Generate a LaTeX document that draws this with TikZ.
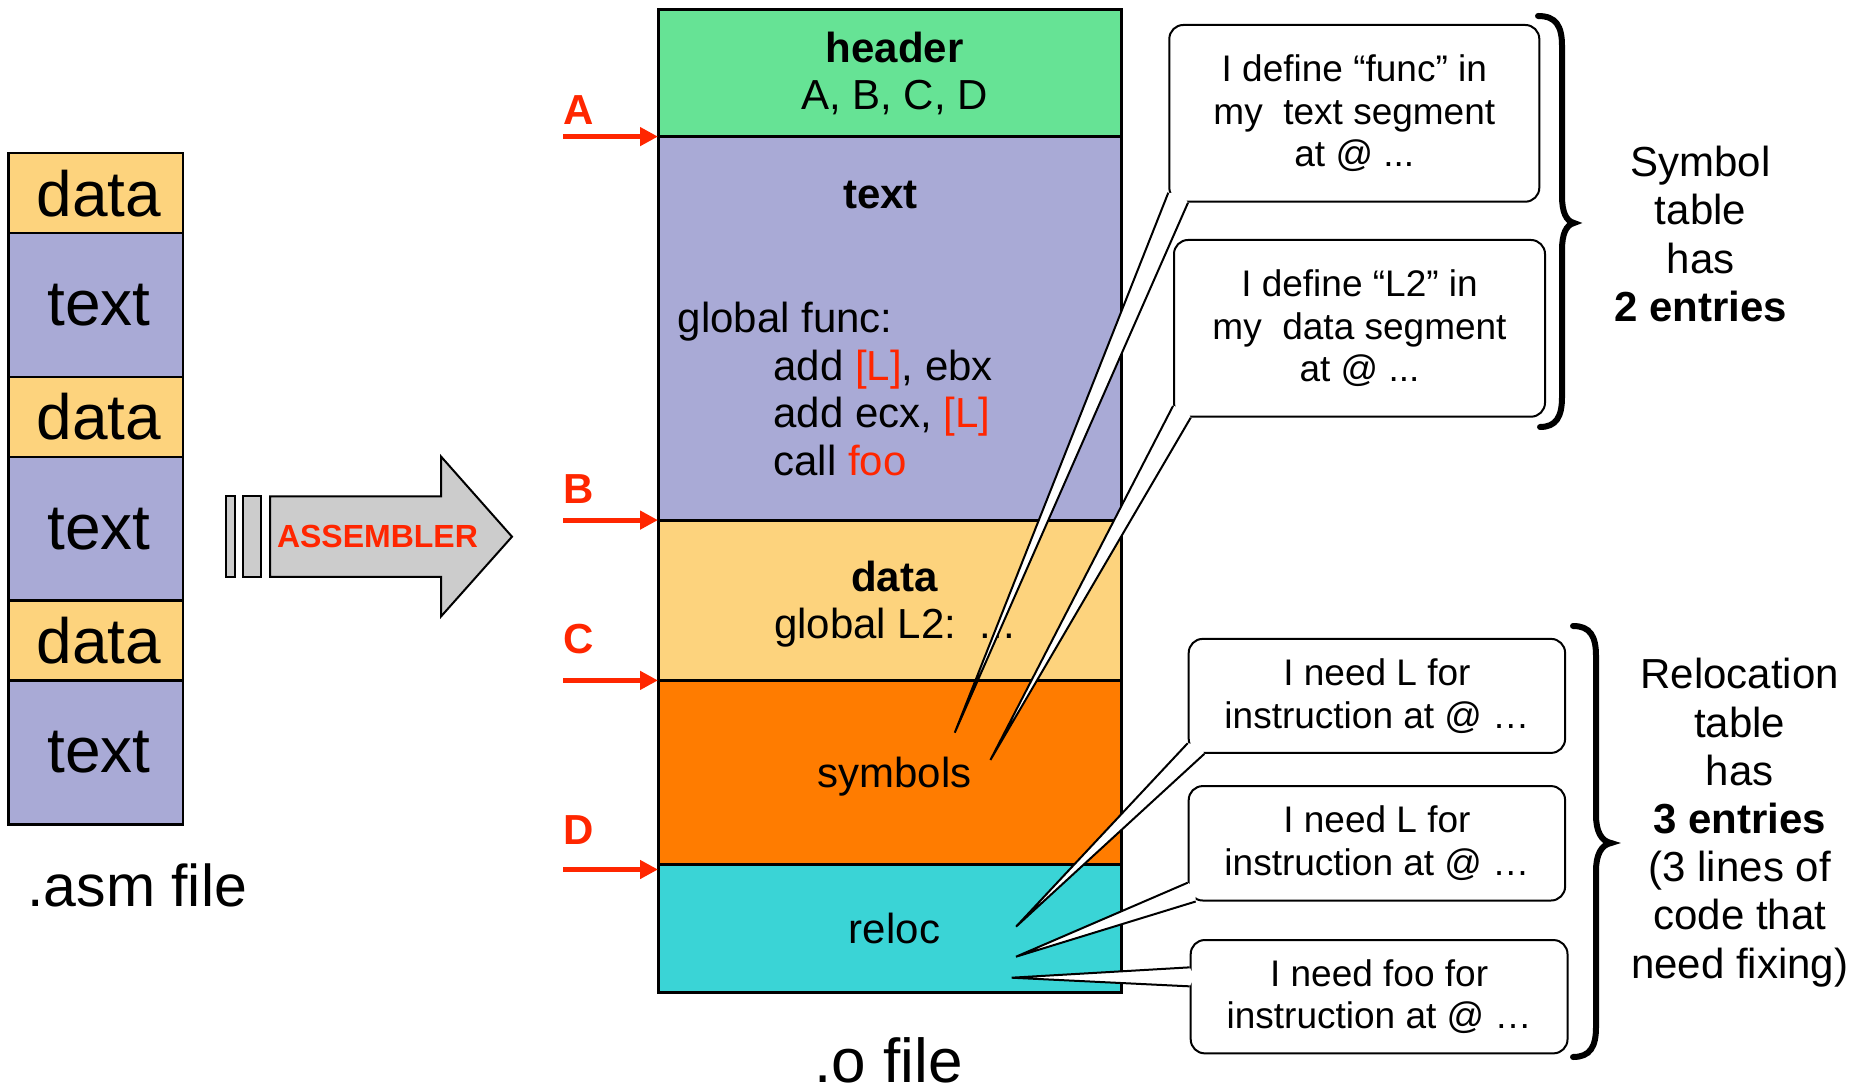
\documentclass[tikz,border=0pt]{standalone}
\usepackage{fontspec}
\setmainfont{Liberation Sans}
\usetikzlibrary{arrows.meta,calc,positioning}

\definecolor{hdrgreen}{RGB}{102,227,149}
\definecolor{txtblue}{RGB}{169,170,214}
\definecolor{datyellow}{RGB}{253,211,125}
\definecolor{symorange}{RGB}{255,124,0}
\definecolor{relcyan}{RGB}{58,212,214}
\definecolor{lblred}{RGB}{255,38,0}
\definecolor{asmgray}{RGB}{204,204,204}
\newcommand{\segwd}{231.5pt}
\newcommand{\asmwd}{87.3pt}
\newcommand{\hl}[1]{\textcolor{lblred}{#1}}
\newcommand{\fsize}[2]{\fontsize{#1}{#2}\selectfont}
% white tail of a callout: base points #1 and #2, tip #3, inward shift #4
\newcommand{\calltail}[4]{%
  \fill[white] (#1) -- (#3) -- (#2) -- ($(#1)!0.5!(#2)+(#4)$) -- cycle;
  \draw[tailline] (#1) -- (#3) -- (#2);}

\tikzset{
  oseg/.style={draw, line width=1.5pt, minimum width=\segwd, inner sep=0pt, outer sep=0pt},
  otext/.style={align=center, inner sep=0pt, font=\fsize{21}{23.5}},
  aseg/.style={draw, line width=1.2pt, minimum width=\asmwd, inner sep=0pt, outer sep=0pt},
  atext/.style={inner sep=0pt, font=\fsize{32}{34}},
  code/.style={anchor=base west, inner sep=0pt, font=\fsize{21}{23.5}},
  seglbl/.style={text=lblred, font=\bfseries\fsize{21}{23.5}},
  redarr/.style={draw=lblred, line width=2.5pt, -{Triangle[length=9pt,width=9pt]}},
  callbox/.style={draw, fill=white, line width=1pt, rounded corners=7pt, align=center, font=\fsize{18.5}{21.4}},
  tailline/.style={line width=1pt},
  curly/.style={line width=3pt, line cap=round},
  tbl/.style={align=center, font=\fsize{21}{24.1}}
}

\begin{document}
\begin{tikzpicture}[x=0.5pt,y=-0.5pt]
  %\draw[help lines] (0,0) grid[step=100] (1862,1090);
  \useasboundingbox (0,0) rectangle (1862,1090);

  % source file: data/text pairs
  \node[aseg, fill=datyellow, minimum height=40pt, anchor=north] (d1) at (95.6,153.2) {};
  \node[aseg, fill=txtblue, minimum height=71.85pt, below=0pt of d1] (t1) {};
  \foreach \i/\j in {2/1,3/2} {
    \node[aseg, fill=datyellow, minimum height=40pt, below=0pt of t\j] (d\i) {};
    \node[aseg, fill=txtblue, minimum height=71.85pt, below=0pt of d\i] (t\i) {};
  }
  \foreach \i in {1,2,3} {
    \node[atext] (d\i name) at ([xshift=1.75pt]d\i.center) {data};
    \node[atext] (t\i name) at ([xshift=1.75pt]t\i.center) {text};
  }
  \node[code, font=\fsize{29.5}{31}] (asmname) at (27,906.7) {.asm file};

  % assembler arrow
  \filldraw[fill=asmgray, line width=1pt] (225.5,496.5) rectangle (234.5,576.8);
  \filldraw[fill=asmgray, line width=1pt] (243,496.5) rectangle (261,576.8);
  \filldraw[fill=asmgray, line width=1pt] (270,496.5) -- (441,496.5) -- (441,456.5)
    -- (512,536.7) -- (441,616.5) -- (441,576.8) -- (270,576.8) -- cycle;
  \node[text=lblred, font=\bfseries\fsize{16}{18}] (asmb) at (377.5,536.7) {ASSEMBLER};

  % object file
  \node[oseg, fill=hdrgreen, minimum height=63.55pt, anchor=north] (hdr) at (889.5,9.5) {};
  \node[oseg, fill=txtblue, minimum height=191.75pt, below=0pt of hdr] (txt) {};
  \node[oseg, fill=datyellow, minimum height=80.15pt, below=0pt of txt] (dat) {};
  \node[oseg, fill=symorange, minimum height=92.05pt, below=0pt of dat] (sym) {};
  \node[oseg, fill=relcyan, minimum height=64.15pt, below=0pt of sym] (rel) {};
  \node[otext] (hdrname) at ([xshift=2.5pt]hdr.center) {\textbf{header}\\A, B, C, D};
  \node[otext] (datname) at ([xshift=2.5pt,yshift=-2pt]dat.center) {\textbf{data}\\global L2:\ \ ...};
  \node[otext] (symname) at ([xshift=2.5pt,yshift=-2pt]sym.center) {symbols};
  \node[otext] (relname) at ([xshift=2.5pt]rel.center) {reloc};
  \node[code, font=\bfseries\fsize{21}{23.5}, anchor=base] (txtname) at (880.6,208.7) {text};
  \node[code] (ln0) at (677.5,333) {global func:};
  \node[code] (ln1) at (773,380.5) {add \hl{[L]}, ebx};
  \node[code] (ln2) at (773,428) {add ecx, \hl{[L]}};
  \node[code] (ln3) at (773,475.5) {call \hl{foo}};
  \node[code, font=\fsize{31}{34}] (oname) at (814,1082) {.o file};

  % section offsets kept in the header
  \foreach \lbl/\ly/\seg/\dy in {A/110/txt/0, B/489/dat/0, C/639/sym/0, D/830/rel/5} {
    \node[seglbl] (l\lbl) at (578.5,\ly) {\lbl};
    \coordinate (e\lbl) at ($(\seg.north west)+(0,\dy)$);
    \coordinate (s\lbl) at ($(e\lbl)+(-95,0)$);
    \draw[redarr] (s\lbl) -- (e\lbl);
  }

  % symbol table entries
  \node[callbox, minimum width=185pt, minimum height=88.35pt] (c1) at (1354.3,113.35)
    {I define “func” in\\my\ \ text segment\\at @ ...};
  \coordinate (c1a) at ($(c1.south west)+(0,-10)$);
  \coordinate (c1b) at ($(c1.south west)+(19.7,0)$);
  \coordinate (c1t) at (954.75,732.7);
  \calltail{c1a}{c1b}{c1t}{4,-4}

  \node[callbox, minimum width=185.5pt, minimum height=88.35pt] (c2) at (1359.5,328.35)
    {I define “L2” in\\my\ \ data segment\\at @ ...};
  \coordinate (c2a) at ($(c2.south west)+(0,-11.7)$);
  \coordinate (c2b) at ($(c2.south west)+(17.7,0)$);
  \coordinate (c2t) at (990.4,760);
  \calltail{c2a}{c2b}{c2t}{4,-4}

  % relocation entries
  \node[callbox, minimum width=188.2pt, minimum height=57pt] (c3) at (1376.9,695.9)
    {I need L for\\instruction at @ …};
  \coordinate (c3a) at ($(c3.south west)+(0,-10.7)$);
  \coordinate (c3b) at ($(c3.south west)+(16.6,0)$);
  \coordinate (c3t) at (1016,926.7);
  \calltail{c3a}{c3b}{c3t}{4,-4}

  \node[callbox, minimum width=188.2pt, minimum height=57.2pt] (c4) at (1376.9,843.3)
    {I need L for\\instruction at @ …};
  \coordinate (c4a) at ($(c4.south west)+(0,-18.8)$);
  \coordinate (c4b) at ($(c4.south west)+(8,0)$);
  \coordinate (c4t) at (1016,956.7);
  \calltail{c4a}{c4b}{c4t}{4,-4}

  \node[callbox, minimum width=188.4pt, minimum height=56.65pt] (c5) at (1379.1,996.7)
    {I need foo for\\instruction at @ …};
  \coordinate (c5a) at ($(c5.north west)+(0,28.3)$);
  \coordinate (c5b) at ($(c5.north west)+(0,47.3)$);
  \coordinate (c5t) at (1011.7,977.7);
  \calltail{c5a}{c5b}{c5t}{5,0}

  % braces
  \draw[curly] (1538,16) .. controls (1556,16) and (1562,26) .. (1562,46) -- (1562,196)
    .. controls (1562,212) and (1566,221) .. (1574,223)
    .. controls (1566,225) and (1562,234) .. (1562,250) -- (1562,397)
    .. controls (1562,417) and (1556,427) .. (1540,427);
  \draw[curly] (1573,626) .. controls (1590,626) and (1596,636) .. (1596,656) -- (1596,815)
    .. controls (1596,831) and (1601,841) .. (1611,843)
    .. controls (1601,845) and (1596,855) .. (1596,871) -- (1596,1027)
    .. controls (1596,1047) and (1590,1057) .. (1573,1057);

  \node[tbl] (symtab) at (1700.5,234) {Symbol\\table\\has\\\textbf{2 entries}};
  \node[tbl] (reltab) at (1739.7,822.7) {Relocation\\table\\has\\\textbf{3 entries}\\(3 lines of\\code that\\need fixing)};
\end{tikzpicture}
\end{document}
